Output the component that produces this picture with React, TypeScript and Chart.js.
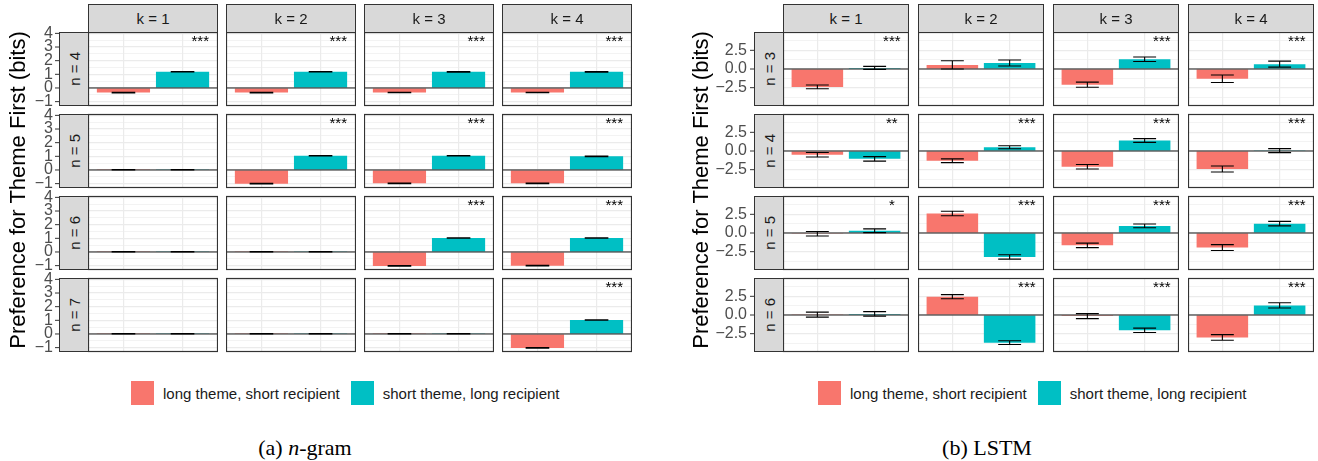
import React, { useEffect, useRef } from 'react';
import { Chart, registerables } from 'chart.js';

Chart.register(...registerables);
Chart.defaults.font.family = '"Liberation Sans", Arial, sans-serif';

// ---------- data ----------
const kLabels = ['k = 1', 'k = 2', 'k = 3', 'k = 4'];
const ngramRowLabels = ['n = 4', 'n = 5', 'n = 6', 'n = 7'];
const lstmRowLabels = ['n = 3', 'n = 4', 'n = 5', 'n = 6'];
const seriesNames = ['long theme, short recipient', 'short theme, long recipient'];
const seriesColors = ['#F8766D', '#00BFC4'];
const barPositions = [1, 2];

// n-gram (rows = n, cols = k)
const ngramLong = [
  [-0.34, -0.34, -0.33, -0.33],
  [0.02, -1.0, -0.98, -0.98],
  [0.02, 0.02, -1.02, -1.0],
  [0.02, 0.02, 0.02, -1.02],
];
const ngramLongErr = [
  [0.02, 0.02, 0.02, 0.02],
  [0.02, 0.02, 0.02, 0.02],
  [0.02, 0.02, 0.02, 0.02],
  [0.02, 0.02, 0.02, 0.02],
];
const ngramShort = [
  [1.19, 1.19, 1.18, 1.18],
  [0.02, 1.04, 1.04, 1.0],
  [0.02, 0.02, 1.02, 1.02],
  [0.02, 0.02, 0.02, 1.02],
];
const ngramShortErr = [
  [0.02, 0.02, 0.02, 0.02],
  [0.02, 0.02, 0.02, 0.02],
  [0.02, 0.02, 0.02, 0.02],
  [0.02, 0.02, 0.02, 0.02],
];
const ngramStars = [
  ['***', '***', '***', '***'],
  ['', '***', '***', '***'],
  ['', '', '***', '***'],
  ['', '', '', '***'],
];
const ngramTicks = [-1, 0, 1, 2, 3, 4];
const ngramTickLabels = ['\u22121', '0', '1', '2', '3', '4'];
const ngramRange = [-1.32, 4.1];

// LSTM (rows = n, cols = k)
const lstmLong = [
  [-2.4, 0.55, -2.1, -1.3],
  [-0.5, -1.3, -2.1, -2.4],
  [-0.1, 2.6, -1.65, -1.95],
  [0.05, 2.45, -0.15, -3.0],
];
const lstmLongErr = [
  [0.25, 0.55, 0.35, 0.5],
  [0.3, 0.25, 0.3, 0.4],
  [0.3, 0.3, 0.3, 0.4],
  [0.33, 0.27, 0.33, 0.38],
];
const lstmShort = [
  [0.15, 0.8, 1.3, 0.65],
  [-1.05, 0.5, 1.4, 0.05],
  [0.3, -3.2, 0.95, 1.25],
  [0.15, -3.7, -2.05, 1.28],
];
const lstmShortErr = [
  [0.2, 0.4, 0.3, 0.4],
  [0.3, 0.2, 0.25, 0.27],
  [0.25, 0.3, 0.25, 0.3],
  [0.3, 0.25, 0.3, 0.35],
];
const lstmStars = [
  ['***', '', '***', '***'],
  ['**', '***', '***', '***'],
  ['*', '***', '***', '***'],
  ['', '***', '***', '***'],
];
const lstmTicks = [-2.5, 0, 2.5];
const lstmTickLabels = ['\u22122.5', '0.0', '2.5'];
const lstmRange = [-4.95, 4.95];

const yTitle = 'Preference for Theme First (bits)';

// ---------- layout ----------
const FONT = '"Liberation Sans", Arial, sans-serif';
const ROW_TOP0 = 32;
const ROW_PITCH = 82;
const ROW_H = 74;
const PADV = 10;
const STRIP_W = 29;
const TICK_LEN = 4;

const facetPlugin = {
  id: 'facet',
  afterDatasetsDraw(chart: any, _args: any, opts: any) {
    const { ctx, chartArea, scales } = chart;
    const { left, right, top } = chartArea;
    const x = scales.x;
    const y = scales.y;
    ctx.save();
    // zero reference line
    const y0 = y.getPixelForValue(0);
    ctx.strokeStyle = '#1a1a1a';
    ctx.lineWidth = 1;
    ctx.beginPath();
    ctx.moveTo(left, y0);
    ctx.lineTo(right, y0);
    ctx.stroke();
    // error bars
    const halfW = Math.abs(x.getPixelForValue(1 + opts.whisker / 2) - x.getPixelForValue(1));
    chart.data.datasets.forEach((ds: any, i: number) => {
      const meta = chart.getDatasetMeta(i);
      meta.data.forEach((el: any, j: number) => {
        const v = ds.data[j].y;
        const e = ds.errors[j];
        const yHi = y.getPixelForValue(v + e);
        const yLo = y.getPixelForValue(v - e);
        const xc = el.x;
        ctx.strokeStyle = '#000';
        ctx.lineWidth = 1.1;
        ctx.beginPath();
        ctx.moveTo(xc - halfW, yHi);
        ctx.lineTo(xc + halfW, yHi);
        ctx.moveTo(xc - halfW, yLo);
        ctx.lineTo(xc + halfW, yLo);
        ctx.moveTo(xc, yHi);
        ctx.lineTo(xc, yLo);
        ctx.stroke();
      });
    });
    // significance stars
    if (opts.star) {
      ctx.fillStyle = '#000';
      ctx.font = '15px ' + FONT;
      ctx.textAlign = 'center';
      ctx.textBaseline = 'alphabetic';
      ctx.fillText(opts.star, x.getPixelForValue(opts.starX), top + 14);
    }
    ctx.restore();
  },
  afterDraw(chart: any, _args: any, opts: any) {
    const { ctx, chartArea, scales } = chart;
    const { left, right, top, bottom } = chartArea;
    ctx.save();
    ctx.strokeStyle = '#333333';
    ctx.lineWidth = 1.2;
    ctx.strokeRect(left + 0.5, top + 0.5, right - left - 1, bottom - top - 1);
    if (opts.showAxis) {
      const y = scales.y;
      ctx.lineWidth = 1;
      ctx.beginPath();
      opts.majors.forEach((t: number) => {
        const py = y.getPixelForValue(t);
        ctx.moveTo(left - opts.stripW - opts.tickLen, py);
        ctx.lineTo(left - opts.stripW, py);
      });
      ctx.stroke();
    }
    ctx.restore();
  },
};

type FacetProps = {
  long: number; longErr: number; short: number; shortErr: number; star: string;
  ticks: number[]; tickLabels: string[]; range: number[]; showAxis: boolean;
  left: number; top: number; width: number; height: number; axisW: number; labelPad: number;
};

function Facet(p: FacetProps) {
  const ref = useRef<HTMLCanvasElement>(null);
  useEffect(() => {
    if (!ref.current) return;
    const step = p.ticks[1] - p.ticks[0];
    const minors = [...p.ticks.map((t) => t - step / 2), p.ticks[p.ticks.length - 1] + step / 2].filter(
      (v) => v > p.range[0] && v < p.range[1]
    );
    const gridVals = [...p.ticks, ...minors].sort((a, b) => a - b);
    const chart = new Chart(ref.current, {
      type: 'bar',
      data: {
        datasets: [
          {
            label: seriesNames[0],
            data: [{ x: barPositions[0], y: p.long }],
            errors: [p.longErr],
            backgroundColor: seriesColors[0],
            grouped: false,
            barPercentage: 0.9,
            categoryPercentage: 1,
          } as any,
          {
            label: seriesNames[1],
            data: [{ x: barPositions[1], y: p.short }],
            errors: [p.shortErr],
            backgroundColor: seriesColors[1],
            grouped: false,
            barPercentage: 0.9,
            categoryPercentage: 1,
          } as any,
        ],
      },
      options: {
        animation: false,
        responsive: false,
        maintainAspectRatio: false,
        layout: { padding: { top: PADV, bottom: PADV, left: 0, right: 0 } },
        plugins: {
          legend: { display: false },
          tooltip: { enabled: false },
          facet: {
            star: p.star,
            starX: 2.3,
            whisker: 0.4,
            showAxis: p.showAxis,
            majors: p.ticks,
            stripW: STRIP_W,
            tickLen: TICK_LEN,
          },
        } as any,
        scales: {
          x: {
            type: 'linear',
            min: 0.4,
            max: 2.6,
            offset: false,
            ticks: { display: false },
            grid: { color: '#ebebeb', lineWidth: 1.2, drawTicks: false, offset: false },
            border: { display: false },
            afterBuildTicks: (s: any) => {
              s.ticks = barPositions.map((v) => ({ value: v }));
            },
            afterFit: (s: any) => {
              s.height = 0;
              s.paddingLeft = 0;
              s.paddingRight = 0;
            },
          },
          y: {
            type: 'linear',
            min: p.range[0],
            max: p.range[1],
            ticks: {
              display: p.showAxis,
              autoSkip: false,
              padding: p.labelPad,
              color: '#4d4d4d',
              font: { size: 16, family: FONT },
              callback: (v: any) => {
                const i = p.ticks.indexOf(Number(v));
                return i >= 0 ? p.tickLabels[i] : '';
              },
            },
            grid: {
              color: '#ebebeb',
              drawTicks: false,
              lineWidth: (c: any) => (p.ticks.indexOf(c.tick?.value) >= 0 ? 1.2 : 0.6),
            },
            border: { display: false },
            afterBuildTicks: (s: any) => {
              s.ticks = gridVals.map((v) => ({ value: v }));
            },
            afterFit: (s: any) => {
              s.width = p.showAxis ? p.axisW : 0;
              s.paddingTop = 0;
              s.paddingBottom = 0;
            },
          },
        },
      } as any,
      plugins: [facetPlugin],
    });
    return () => chart.destroy();
  }, []);
  return (
    <canvas
      ref={ref}
      width={p.width}
      height={p.height}
      style={{ position: 'absolute', left: p.left, top: p.top, width: p.width, height: p.height }}
    />
  );
}

type PanelProps = {
  colLefts: number[]; colW: number; stripLeft: number; axisW: number; labelPad: number;
  rowLabels: string[]; long: number[][]; longErr: number[][]; short: number[][]; shortErr: number[][];
  stars: string[][]; ticks: number[]; tickLabels: string[]; range: number[];
  titleX: number; legendLeft: number; caption: React.ReactNode; captionX: number;
};

const stripStyle: React.CSSProperties = {
  position: 'absolute',
  boxSizing: 'border-box',
  background: '#d9d9d9',
  border: '1.2px solid #333333',
  color: '#1a1a1a',
  fontSize: 15,
  display: 'flex',
  alignItems: 'center',
  justifyContent: 'center',
};

function Panel(p: PanelProps) {
  const items: React.ReactNode[] = [];
  p.rowLabels.forEach((rl, r) => {
    const rowTop = ROW_TOP0 + r * ROW_PITCH;
    p.colLefts.forEach((cl, c) => {
      const showAxis = c === 0;
      items.push(
        <Facet
          key={`f${r}-${c}`}
          long={p.long[r][c]}
          longErr={p.longErr[r][c]}
          short={p.short[r][c]}
          shortErr={p.shortErr[r][c]}
          star={p.stars[r][c]}
          ticks={p.ticks}
          tickLabels={p.tickLabels}
          range={p.range}
          showAxis={showAxis}
          left={showAxis ? cl - p.axisW : cl}
          top={rowTop - PADV}
          width={p.colW + (showAxis ? p.axisW : 0)}
          height={ROW_H + 2 * PADV}
          axisW={p.axisW}
          labelPad={p.labelPad}
        />
      );
    });
    items.push(
      <div
        key={`rs${r}`}
        style={{ ...stripStyle, left: p.stripLeft, top: rowTop, width: STRIP_W + 1, height: ROW_H }}
      >
        <span style={{ writingMode: 'vertical-rl', transform: 'rotate(180deg)', whiteSpace: 'nowrap' }}>{rl}</span>
      </div>
    );
  });
  kLabels.forEach((kl, c) => {
    items.push(
      <div key={`cs${c}`} style={{ ...stripStyle, left: p.colLefts[c], top: 4, width: p.colW, height: 29 }}>
        {kl}
      </div>
    );
  });
  items.push(
    <div
      key="yt"
      style={{
        position: 'absolute',
        left: p.titleX - 200,
        top: 190 - 14,
        width: 400,
        height: 28,
        lineHeight: '28px',
        textAlign: 'center',
        fontSize: 22,
        color: '#000',
        transform: 'rotate(-90deg)',
        whiteSpace: 'nowrap',
      }}
    >
      {yTitle}
    </div>
  );
  items.push(
    <div
      key="lg"
      style={{ position: 'absolute', left: p.legendLeft, top: 381, height: 24, display: 'flex', alignItems: 'center', fontSize: 15, color: '#1a1a1a', whiteSpace: 'nowrap' }}
    >
      <span style={{ display: 'inline-block', width: 23, height: 24, background: seriesColors[0] }} />
      <span style={{ marginLeft: 9 }}>{seriesNames[0]}</span>
      <span style={{ display: 'inline-block', width: 23, height: 24, background: seriesColors[1], marginLeft: 11 }} />
      <span style={{ marginLeft: 9 }}>{seriesNames[1]}</span>
    </div>
  );
  items.push(
    <div
      key="cap"
      style={{
        position: 'absolute',
        left: p.captionX - 150,
        top: 434,
        width: 300,
        lineHeight: '28px',
        textAlign: 'center',
        fontFamily: '"Liberation Serif", "Times New Roman", serif',
        fontSize: 22,
        color: '#000',
      }}
    >
      {p.caption}
    </div>
  );
  return <>{items}</>;
}

export default function App() {
  return (
    <div
      style={{
        position: 'absolute',
        left: 0,
        top: 0,
        width: 1318,
        height: 461,
        background: '#ffffff',
        fontFamily: FONT,
        overflow: 'hidden',
      }}
    >
      <Panel
        colLefts={[88, 226, 364, 502]}
        colW={130}
        stripLeft={59}
        axisW={58}
        labelPad={35}
        rowLabels={ngramRowLabels}
        long={ngramLong}
        longErr={ngramLongErr}
        short={ngramShort}
        shortErr={ngramShortErr}
        stars={ngramStars}
        ticks={ngramTicks}
        tickLabels={ngramTickLabels}
        range={ngramRange}
        titleX={18}
        legendLeft={131}
        caption={<>(a) <i>n</i>-gram</>}
        captionX={305}
      />
      <Panel
        colLefts={[783, 918, 1053, 1188]}
        colW={126}
        stripLeft={754}
        axisW={78}
        labelPad={36}
        rowLabels={lstmRowLabels}
        long={lstmLong}
        longErr={lstmLongErr}
        short={lstmShort}
        shortErr={lstmShortErr}
        stars={lstmStars}
        ticks={lstmTicks}
        tickLabels={lstmTickLabels}
        range={lstmRange}
        titleX={701}
        legendLeft={818}
        caption={<>(b) LSTM</>}
        captionX={987}
      />
    </div>
  );
}
